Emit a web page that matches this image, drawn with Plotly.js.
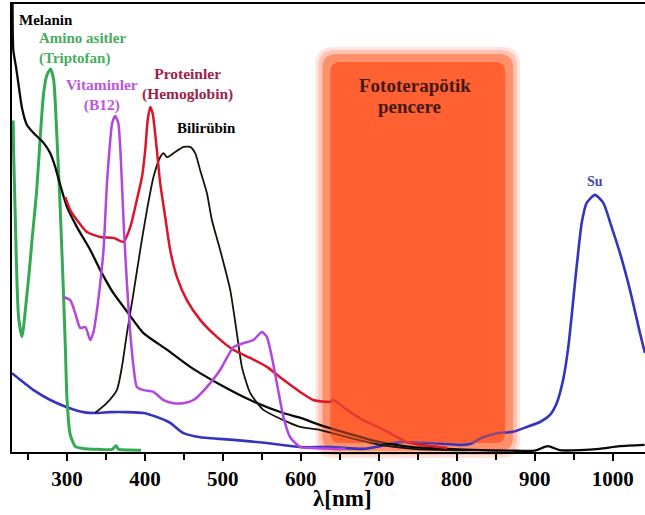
<!DOCTYPE html>
<html>
<head>
<meta charset="utf-8">
<script src="https://cdn.plot.ly/plotly-3.0.1.min.js"></script>
<style>
  html, body { margin: 0; padding: 0; background: #ffffff; }
  #chart { width: 645px; height: 515px; }
</style>
</head>
<body>
<div id="chart"></div>
<script>
// Absorption spectra of tissue chromophores (arbitrary units) vs wavelength in nm

const melaninNm = [230.2, 231.2, 234.6, 237.6, 242.3, 248.7, 257.2, 270, 278.6, 285, 291.4, 300, 312.8, 329.9, 342.7, 359.4, 378.6, 397.8, 428.6, 458.1, 492.7, 535, 577.3, 600, 625, 659.4, 701.7, 744, 787.6, 830, 870, 900, 917, 932, 958, 983, 1009, 1041];
const melaninAbs = [100, 89.7, 86, 82.4, 76.8, 73, 71.2, 69, 66.7, 63.6, 59.6, 54.7, 50.2, 45.1, 40.6, 35.5, 31, 26.6, 22.8, 19, 15.4, 11.6, 8.7, 7.6, 6, 4.2, 2.2, 1.1, 0.7, 0.4, 0.3, 0.3, 1.3, 0.4, 0.4, 0.7, 1.3, 1.6];

const aminoNm = [231, 231.5, 233.7, 235.9, 238, 242.3, 248, 252, 255, 261, 266, 270, 274, 279, 283, 285, 288, 291, 293, 295, 298, 300, 304, 311, 320, 340, 358, 363, 366, 370, 395];
const aminoAbs = [74, 67.4, 52.5, 37.7, 30, 25.7, 34, 41, 47, 58, 71, 80, 84, 85.5, 83, 78, 67, 56, 47, 38, 23, 12, 4, 1.2, 0.8, 0.6, 0.6, 1.4, 0.6, 0.5, 0.4];

const vitaminNm = [295.6, 304.2, 310.6, 317, 323.5, 329.9, 334.1, 338.5, 342.7, 346.9, 351.3, 355, 358.1, 361.9, 365.8, 368.5, 371, 373, 376.9, 381.2, 385.4, 389.7, 398.2, 411, 423.8, 436.7, 449.5, 462.3, 479.5, 496.5, 513.6, 526.4, 539.2, 550, 556.4, 562.8, 569.2, 577.7, 586.3, 599.1, 611.9, 640, 657];
const vitaminAbs = [34.6, 33.9, 31, 27.7, 27.9, 25, 26.8, 31.7, 37.7, 45.1, 60, 68.5, 73.5, 75, 73.5, 67.4, 58, 50, 37.7, 26.6, 19, 14.5, 13.8, 13.4, 11.6, 10.9, 10.9, 11.6, 14.5, 18.3, 23.4, 24.3, 25, 26.8, 25.7, 21.2, 15.4, 7.8, 3.3, 1.1, 0.9, 0.7, 0.7];

const proteinNm = [297.9, 304.2, 312.8, 325.6, 342.7, 359.7, 372.6, 381.2, 389.7, 396.2, 400.4, 403.5, 406.8, 410, 415, 419.6, 426, 432.4, 441, 453.8, 470.9, 492.3, 513.6, 535, 556.4, 577.7, 599.1, 615.8, 637.6, 641.4, 659.4, 679.9, 701.7, 723.5, 736.3, 753, 787.6];
const proteinAbs = [56.9, 54, 51.8, 49.1, 48, 47.8, 46.9, 50.2, 56.3, 61.4, 67.4, 74, 77, 75.5, 68, 60, 52.5, 45.1, 39.1, 33.9, 29.5, 25.7, 22.8, 21, 19, 16.1, 13.4, 11.6, 11.2, 11.6, 9.4, 7.1, 5.4, 3.3, 2.2, 1.6, 0.9];

const bilirubinNm = [336, 351, 364, 370.5, 377, 385.4, 394, 402.6, 411, 419.6, 423.8, 428.2, 436.7, 449.5, 458.1, 464.5, 470.9, 479.5, 485.9, 496.5, 509.4, 517.9, 524.4, 535, 552, 577.7, 599, 625, 659, 702, 744, 788, 830];
const bilirubinAbs = [8.7, 10.9, 13.8, 19, 26.6, 35.5, 45.1, 54, 61.4, 65.8, 66.7, 65.8, 66.7, 68.1, 68.1, 66.7, 62.9, 57.8, 51.8, 45.1, 36.2, 26.6, 19, 13.2, 9.4, 7.1, 5.6, 4.9, 3.3, 1.6, 0.7, 0.4, 0.4];

const waterNm = [229.5, 240.1, 257.2, 278.6, 300, 321.3, 338.5, 355.5, 376.9, 398.2, 415.4, 432.4, 449.5, 470.9, 513.6, 556.4, 599.1, 637.6, 679.9, 701.7, 727.3, 765.8, 804.2, 817, 833.7, 851.7, 872.2, 890.1, 906.8, 919.6, 928.2, 936.7, 943.1, 953.8, 960.3, 966.7, 977.3, 988, 998.7, 1009.4, 1022.2, 1035, 1041.4];
const waterAbs = [17.6, 16.1, 13.8, 11.6, 10, 8.9, 8.7, 8.9, 8.9, 8.7, 7.8, 6.5, 4.2, 3.3, 2.7, 2, 1.1, 1.1, 0.7, 1.3, 2.2, 2, 1.6, 1.8, 3.3, 4.2, 4.5, 5.6, 6.7, 8.3, 10.9, 16.3, 23.4, 41.3, 51.1, 55.6, 57.4, 55.6, 50.2, 44.4, 36.2, 26.6, 22.1];

// Phototherapeutic window (nm)
const windowNm = [638, 862];

const xTickVals = [300, 400, 500, 600, 700, 800, 900, 1000];
const xTickText = ['300', '400', '500', '600', '700', '800', '900', '1000'];

const W = 645, H = 515;
const M = { l: 12, r: 0, t: 4, b: 63 };
const xRange = [229.5, 1041.5];
const yRange = [0, 100];
const plotW = W - M.l - M.r;
const plotH = H - M.t - M.b;
const nmPerPx = (xRange[1] - xRange[0]) / plotW;
const paperPerPx = 1 / plotH;

const serif = 'Liberation Serif, Times New Roman, serif';

function line(x, y, color, width, name) {
  return {
    type: 'scatter', mode: 'lines', x: x, y: y, name: name,
    line: { color: color, width: width, shape: 'spline', smoothing: 0.6 },
    hoverinfo: 'skip', showlegend: false
  };
}

const traces = [
  line(waterNm, waterAbs, 'rgb(52,52,188)', 2.6, 'Su'),
  line(aminoNm, aminoAbs, 'rgb(52,170,82)', 3, 'Amino asitler'),
  line(melaninNm, melaninAbs, 'rgb(10,10,10)', 2.3, 'Melanin'),
  line(bilirubinNm, bilirubinAbs, 'rgb(20,20,10)', 1.8, 'Bilirübin'),
  line(proteinNm, proteinAbs, 'rgb(218,22,40)', 2.5, 'Proteinler'),
  line(vitaminNm, vitaminAbs, 'rgb(178,70,222)', 2.5, 'Vitaminler')
];

// rounded rectangle path: x in nm, y in paper units, padding/radius in px
function roundedRect(padPx, radiusPx) {
  const x0 = windowNm[0] - padPx * nmPerPx;
  const x1 = windowNm[1] + padPx * nmPerPx;
  const y0 = (9 - padPx) * paperPerPx;          // bottom edge
  const y1 = 1 - (58 - padPx) * paperPerPx;     // top edge
  const rx = radiusPx * nmPerPx, ry = radiusPx * paperPerPx;
  return 'M ' + (x0 + rx) + ',' + y1 +
    ' L ' + (x1 - rx) + ',' + y1 +
    ' Q ' + x1 + ',' + y1 + ' ' + x1 + ',' + (y1 - ry) +
    ' L ' + x1 + ',' + (y0 + ry) +
    ' Q ' + x1 + ',' + y0 + ' ' + (x1 - rx) + ',' + y0 +
    ' L ' + (x0 + rx) + ',' + y0 +
    ' Q ' + x0 + ',' + y0 + ' ' + x0 + ',' + (y0 + ry) +
    ' L ' + x0 + ',' + (y1 - ry) +
    ' Q ' + x0 + ',' + y1 + ' ' + (x0 + rx) + ',' + y1 + ' Z';
}

function glow(padPx, radiusPx, fill, opacity, layer) {
  return {
    type: 'path', xref: 'x', yref: 'paper', path: roundedRect(padPx, radiusPx),
    fillcolor: fill, opacity: opacity, line: { width: 0 }, layer: layer
  };
}

const shapes = [
  glow(15, 18, 'rgb(255,205,195)', 0.55, 'below'),
  glow(12, 16, 'rgb(255,175,150)', 0.6, 'below'),
  glow(8, 14, 'rgb(255,135,95)', 0.85, 'below'),
  glow(0, 10, 'rgb(255,98,50)', 1, 'below'),
  // tint over the curves that run through the window
  glow(0, 10, 'rgb(255,98,50)', 0.45, 'above')
];

function label(text, x, y, color, size, align, xanchor) {
  return {
    xref: 'x', yref: 'y', x: x, y: y, text: text, showarrow: false,
    font: { family: serif, size: size, color: color, weight: 'bold' },
    align: align || 'center', xanchor: xanchor || 'center', yanchor: 'middle'
  };
}

const annotations = [
  label('Melanin', 236.5, 96.4, '#000000', 15, 'left', 'left'),
  label('Amino asitler<br>(Triptofan)', 261, 90, 'rgb(72,172,92)', 15, 'left', 'left'),
  label('Vitaminler<br>(B12)', 345, 79.7, 'rgb(188,88,218)', 15.5),
  label('Proteinler<br>(Hemoglobin)', 454, 82.1, 'rgb(158,34,74)', 15.5),
  label('Bilirübin', 478.5, 72.4, '#000000', 15),
  label('Fototerapötik', 746.4, 81.7, 'rgb(68,24,22)', 19),
  label('pencere', 740, 77.2, 'rgb(68,24,22)', 19),
  label('Su', 977.3, 60.4, 'rgb(72,72,172)', 14),
  {
    xref: 'paper', yref: 'paper', x: (342 - M.l) / plotW, y: (452 - 499) / plotH,
    text: 'λ[nm]', showarrow: false, xanchor: 'center', yanchor: 'middle',
    font: { family: serif, size: 23, color: '#000000', weight: 'bold' }
  }
];

const layout = {
  width: W, height: H,
  margin: M,
  paper_bgcolor: '#ffffff', plot_bgcolor: '#ffffff',
  showlegend: false,
  xaxis: {
    range: xRange, showgrid: false, zeroline: false,
    showline: true, linecolor: '#000000', linewidth: 2, mirror: true,
    ticks: 'outside', ticklen: 7, tickwidth: 2, tickcolor: '#000000',
    tickvals: xTickVals, ticktext: xTickText,
    tickfont: { family: serif, size: 21, color: '#000000', weight: 'bold' },
    minor: { dtick: 50, tick0: 250, ticks: 'outside', ticklen: 6, tickwidth: 2, tickcolor: '#000000' }
  },
  yaxis: {
    range: yRange, showgrid: false, zeroline: false, showticklabels: false,
    ticks: '', showline: true, linecolor: '#000000', linewidth: 2, mirror: true
  },
  shapes: shapes,
  annotations: annotations
};

Plotly.newPlot('chart', traces, layout, { staticPlot: true, displayModeBar: false });
</script>
</body>
</html>
